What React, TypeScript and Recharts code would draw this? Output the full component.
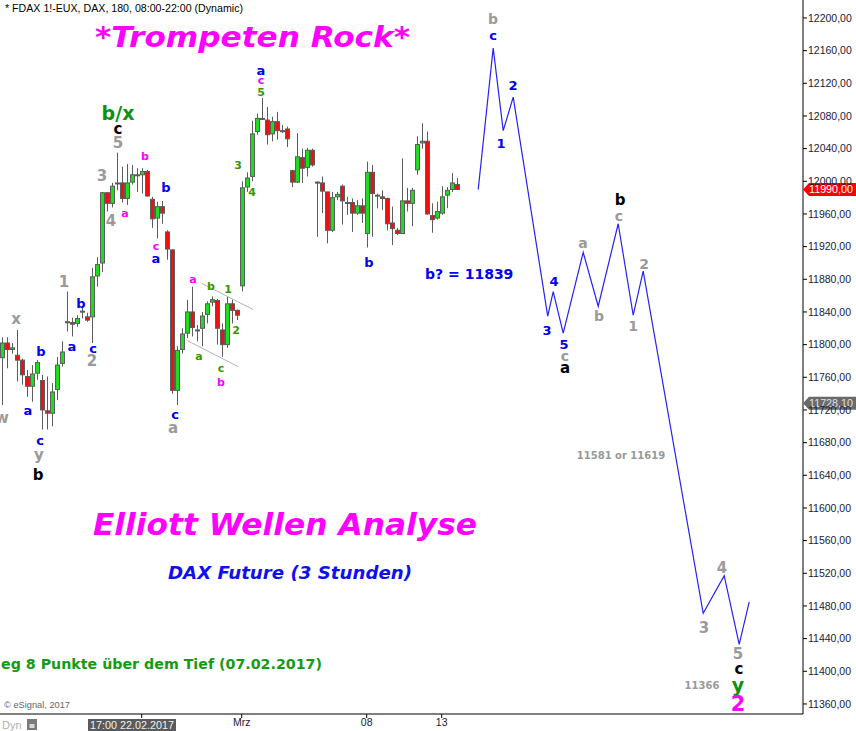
import React from 'react';
import {
  ComposedChart,
  Bar,
  Line,
  Scatter,
  XAxis,
  YAxis,
  ReferenceLine,
  ReferenceDot,
} from 'recharts';

// ---------- candle data (3h bars, slot index = bar number) ----------
const candleOpen = [
  11784, 11802, 11794, 11787, 11781, 11761, 11749, 11765, 11756, 11719,
  11716, 11745, 11777, 11827, 11827, 11826, 11840, 11834, 11834, 11884,
  11900, 11986, 11973, 11997, 11998, 11979, 11999, 12007, 12008, 12012,
  11978, 11955, 11969, 11938, 11916, 11744, 11794, 11814, 11840, 11817,
  11820, 11837, 11852, 11854, 11818, 11800, 11850, 11842, 11872, 11993,
  12006, 12061, 12076, 12075, 12058, 12073, 12061, 12064, 12013, 11999,
  12029, 12017, 12038, 11998, 11998, 11987, 11940, 11981, 11994, 11973,
  11974, 11961, 11970, 11936, 12011, 11983, 11981, 11979, 11949, 11940,
  11936, 11976, 11973, 12014, 12047, 12049, 11958, 11955, 11961, 11983,
  11990, 11996,
];
const candleHigh = [
  11809, 11809, 11802, 11818, 11783, 11769, 11775, 11781, 11763, 11761,
  11753, 11785, 11804, 11865, 11833, 11836, 11845, 11839, 11894, 11907,
  11987, 11987, 11998, 12035, 12018, 12021, 12020, 12016, 12016, 12014,
  11981, 11975, 11976, 11940, 11917, 11798, 11820, 11855, 11871, 11824,
  11840, 11853, 11859, 11856, 11826, 11859, 11855, 11843, 12000, 12011,
  12074, 12083, 12102, 12091, 12079, 12085, 12069, 12067, 12014, 12059,
  12040, 12041, 12040, 12000, 12006, 11987, 11987, 11987, 11996, 11981,
  11979, 11977, 11979, 12024, 12020, 11985, 11989, 11980, 11969, 11943,
  12028, 11992, 11992, 12055, 12071, 12061, 11973, 11975, 11994, 11993,
  12010, 12004,
];
const candleLow = [
  11726, 11771, 11789, 11755, 11751, 11736, 11730, 11757, 11696, 11696,
  11700, 11732, 11773, 11816, 11810, 11822, 11832, 11828, 11802, 11871,
  11889, 11963, 11968, 11989, 11974, 11971, 11996, 11987, 11985, 11981,
  11943, 11930, 11948, 11904, 11740, 11726, 11789, 11808, 11810, 11804,
  11798, 11826, 11847, 11800, 11785, 11796, 11826, 11830, 11865, 11987,
  12000, 12057, 12075, 12045, 12049, 12051, 12059, 12042, 11993, 11998,
  11998, 12006, 12018, 11932, 11961, 11924, 11938, 11977, 11947, 11959,
  11938, 11959, 11949, 11919, 11932, 11967, 11965, 11940, 11922, 11934,
  11936, 11963, 11945, 12008, 12040, 11959, 11937, 11953, 11959, 11967,
  11987, 11989,
];
const candleClose = [
  11802, 11794, 11796, 11781, 11763, 11749, 11764, 11778, 11720, 11716,
  11742, 11775, 11791, 11828, 11825, 11832, 11841, 11830, 11883, 11898,
  11986, 11973, 11994, 11998, 11979, 11998, 12008, 12008, 12012, 11982,
  11954, 11969, 11961, 11917, 11744, 11793, 11813, 11840, 11821, 11818,
  11835, 11850, 11855, 11820, 11800, 11850, 11842, 11836, 11992, 12004,
  12058, 12077, 12077, 12057, 12073, 12062, 12062, 12052, 11999, 12030,
  12016, 12038, 12020, 11999, 11988, 11940, 11980, 11984, 11976, 11974,
  11961, 11970, 11961, 12011, 11985, 11983, 11979, 11948, 11942, 11936,
  11976, 11973, 11989, 12045, 12049, 11960, 11953, 11963, 11981, 11989,
  11998, 11990,
];

// ---------- projected Elliott path ----------
const projSlots = [95.3, 98.3, 100.3, 102.3, 109.2, 110.3, 112.3, 116.3, 119.3, 123.3, 126.3, 128.3, 140.3, 144.5, 147.5, 149.5];
const projPrices = [11990, 12163, 12062, 12103, 11835, 11865, 11814, 11913, 11847, 11948, 11836, 11890, 11471, 11517, 11433, 11485];

// ---------- axes ----------
const yTicks = [
  11360, 11400, 11440, 11480, 11520, 11560, 11600, 11640, 11680, 11720, 11760,
  11800, 11840, 11880, 11920, 11960, 12000, 12040, 12080, 12120, 12160, 12200,
];
const xTicks = [28, 48, 73, 88];
const xTickLabels = ['', 'Mrz', '08', '13'];
const lastPrice = 11990;
const markerPrice = 11728.1;

// ---------- wave labels [slot, price, text] ----------
type Lab = [number, number, string];
const blueLabels: Lab[] = [
  [5.26, 11719, 'a'], [7.86, 11792, 'b'], [7.66, 11683, 'c'], [14.06, 11798, 'a'],
  [15.86, 11850, 'b'], [18.26, 11795, 'c'], [32.86, 11992, 'b'], [30.86, 11905, 'a'],
  [34.66, 11714, 'c'], [51.86, 12136, 'a'], [73.46, 11900, 'b'], [98.26, 12178, 'c'],
  [99.86, 12046, '1'], [102.26, 12117, '2'], [109.06, 11817, '3'], [110.46, 11877, '4'],
  [112.46, 11800, '5'],
];
const grayBigLabels: Lab[] = [
  [0.06, 11710, 'w'], [2.86, 11831, 'x'], [7.46, 11665, 'y'], [12.46, 11877, '1'],
  [18.06, 11780, '2'], [20.06, 12007, '3'], [21.86, 11951, '4'], [23.26, 12047, '5'],
  [34.26, 11698, 'a'], [140.46, 11453, '3'], [144.06, 11527, '4'], [147.26, 11421, '5'],
];
const grayMidLabels: Lab[] = [
  [98.26, 12199, 'b'], [112.66, 11786, 'c'], [116.26, 11925, 'a'], [119.46, 11835, 'b'],
  [123.46, 11958, 'c'], [126.26, 11823, '1'], [128.46, 11899, '2'],
];
const blackLabels: Lab[] = [
  [7.26, 11640, 'b'], [23.26, 12064, 'c'], [112.66, 11771, 'a'], [123.66, 11977, 'b'],
  [147.46, 11403, 'c'],
];
const magentaLabels: Lab[] = [
  [28.66, 12030, 'b'], [24.66, 11961, 'a'], [30.86, 11920, 'c'], [38.26, 11880, 'a'],
  [43.86, 11754, 'b'], [51.86, 12124, 'c'],
];
const greenSmallLabels: Lab[] = [
  [41.86, 11871, 'b'], [45.26, 11868, '1'], [46.86, 11817, '2'], [39.46, 11785, 'a'],
  [43.86, 11771, 'c'], [47.26, 12019, '3'], [50.06, 11986, '4'], [51.86, 12109, '5'],
];
const greenBigLabels: Lab[] = [[23.26, 12084, 'b/x'], [147.26, 11383, 'y']];
const magentaBigLabels: Lab[] = [[147.26, 11360, '2']];
const blueNotes: Lab[] = [[93.5, 11886, 'b? = 11839']];
const grayNotes: Lab[] = [[123.86, 11664, '11581 or 11619'], [140.06, 11383, '11366']];

// triangle guide lines [slot1, price1, slot2, price2]
const guideLines = [
  [40.0, 11875, 50.3, 11843],
  [37.1, 11805, 47.3, 11773],
];

// ---------- derived tables ----------
const candleRows = candleOpen.map((o, i) => ({
  slot: i,
  open: o,
  high: candleHigh[i],
  low: candleLow[i],
  close: candleClose[i],
  range: [candleLow[i], candleHigh[i]],
}));
const projRows = projSlots.map((s, i) => ({ slot: s, proj: projPrices[i] }));
const toRows = (arr: Lab[]) => arr.map(([slot, price, text]) => ({ slot, price, text }));

const LABEL_FONT = '"DejaVu Sans", Verdana, sans-serif';
const AXIS_FONT = '"Liberation Sans", Arial, sans-serif';

const Candle = (props: any) => {
  const { x, y, width, height, payload } = props;
  if (!payload || x == null || y == null || height == null) return <g />;
  const { open, close, high, low } = payload;
  const yTop = Math.min(y, y + height);
  const h = Math.abs(height);
  const cx = Math.round(x + width / 2) + 0.5;
  const span = high - low || 1;
  const py = (v: number) => yTop + ((high - v) / span) * h;
  const top = py(Math.max(open, close));
  const bot = py(Math.min(open, close));
  const up = close >= open;
  return (
    <g>
      <line x1={cx} x2={cx} y1={yTop} y2={yTop + h} stroke="#5c5c5c" strokeWidth={1} />
      <rect
        x={cx - 2}
        y={top}
        width={4}
        height={Math.max(bot - top, 1)}
        fill={up ? '#1fdc1f' : '#ee1111'}
        stroke="#5c5c5c"
        strokeWidth={1}
      />
    </g>
  );
};

const makeText = (color: string, size: number) => (props: any) => {
  const { cx, cy, payload } = props;
  if (cx == null || cy == null || !payload) return <g />;
  return (
    <text
      x={cx}
      y={cy}
      textAnchor="middle"
      dominantBaseline="central"
      fill={color}
      fontSize={size}
      fontWeight="bold"
      fontFamily={LABEL_FONT}
    >
      {payload.text}
    </text>
  );
};

const PriceTag = (fill: string, textFill: string, label: string) => (props: any) => {
  const { cx, cy } = props;
  if (cx == null || cy == null) return <g />;
  const top = cy - 6.5;
  return (
    <g>
      <polygon
        points={`${cx},${cy} ${cx + 6},${top} ${cx + 53},${top} ${cx + 53},${top + 13} ${cx + 6},${top + 13}`}
        fill={fill}
      />
      <text
        x={cx + 6}
        y={cy + 4}
        fill={textFill}
        fontSize={10.5}
        fontFamily={AXIS_FONT}
        textLength={44}
        lengthAdjust="spacingAndGlyphs"
      >
        {label}
      </text>
    </g>
  );
};

const fmt = (v: number) => v.toFixed(2).replace('.', ',');

export default function App() {
  return (
    <div
      style={{
        position: 'absolute',
        left: 0,
        top: 0,
        width: 856,
        height: 731,
        background: '#ffffff',
        overflow: 'hidden',
      }}
    >
      <ComposedChart
        width={856}
        height={731}
        data={candleRows}
        margin={{ top: 0, right: 0, bottom: 0, left: 0 }}
      >
        <XAxis
          type="number"
          dataKey="slot"
          domain={[-0.34, 160.26]}
          allowDataOverflow
          ticks={xTicks}
          interval={0}
          height={17}
          tickSize={4}
          tickMargin={1}
          stroke="#000"
          axisLine={{ stroke: '#000' }}
          tickLine={{ stroke: '#000' }}
          tick={{ fill: '#1a1a3a', fontSize: 10.5, fontFamily: AXIS_FONT }}
          tickFormatter={(v: number) => {
            const i = xTicks.indexOf(v);
            return i >= 0 ? xTickLabels[i] : '';
          }}
        />
        <YAxis
          type="number"
          orientation="right"
          domain={[11347.7, 12222.0]}
          allowDataOverflow
          ticks={yTicks}
          interval={0}
          width={53}
          tickSize={4}
          tickMargin={1}
          axisLine={{ stroke: '#000' }}
          tickLine={{ stroke: '#000' }}
          tick={{ fill: '#1a1a3a', fontSize: 10.5, fontFamily: AXIS_FONT }}
          tickFormatter={fmt}
        />
        {guideLines.map((g, i) => (
          <ReferenceLine
            key={'g' + i}
            segment={[{ x: g[0], y: g[1] }, { x: g[2], y: g[3] }]}
            stroke="#b4b4b4"
            strokeWidth={1}
            ifOverflow="visible"
          />
        ))}
        <Bar dataKey="range" barSize={4} shape={Candle} isAnimationActive={false} />
        <Line
          data={projRows}
          dataKey="proj"
          type="linear"
          stroke="#2424f0"
          strokeWidth={1.2}
          dot={false}
          activeDot={false}
          isAnimationActive={false}
        />
        <Scatter data={toRows(blueLabels)} dataKey="price" shape={makeText('#0000ee', 13)} isAnimationActive={false} />
        <Scatter data={toRows(grayBigLabels)} dataKey="price" shape={makeText('#9a9a9a', 15)} isAnimationActive={false} />
        <Scatter data={toRows(grayMidLabels)} dataKey="price" shape={makeText('#9a9a9a', 14)} isAnimationActive={false} />
        <Scatter data={toRows(blackLabels)} dataKey="price" shape={makeText('#000000', 15)} isAnimationActive={false} />
        <Scatter data={toRows(magentaLabels)} dataKey="price" shape={makeText('#ff00ff', 11)} isAnimationActive={false} />
        <Scatter data={toRows(greenSmallLabels)} dataKey="price" shape={makeText('#339900', 11)} isAnimationActive={false} />
        <Scatter data={toRows(greenBigLabels)} dataKey="price" shape={makeText('#119111', 19)} isAnimationActive={false} />
        <Scatter data={toRows(magentaBigLabels)} dataKey="price" shape={makeText('#ff00ff', 21)} isAnimationActive={false} />
        <Scatter data={toRows(blueNotes)} dataKey="price" shape={makeText('#0000ee', 14)} isAnimationActive={false} />
        <Scatter data={toRows(grayNotes)} dataKey="price" shape={makeText('#999999', 10)} isAnimationActive={false} />
        <ReferenceDot
          x={160.26}
          y={markerPrice}
          r={0}
          ifOverflow="visible"
          shape={PriceTag('#6a6a6a', '#e0e0e0', fmt(markerPrice))}
        />
        <ReferenceDot
          x={160.26}
          y={lastPrice}
          r={0}
          ifOverflow="visible"
          shape={PriceTag('#ff0000', '#ffffff', fmt(lastPrice))}
        />
      </ComposedChart>
      <svg
        width={856}
        height={731}
        style={{ position: 'absolute', left: 0, top: 0, pointerEvents: 'none' }}
      >
        <text x={5} y={12} fontSize={11} fontFamily={AXIS_FONT} fill="#000" textLength={238} lengthAdjust="spacingAndGlyphs">
          * FDAX 1!-EUX, DAX, 180, 08:00-22:00 (Dynamic)
        </text>
        <text x={95} y={47} fontSize={29} fontFamily={LABEL_FONT} fontWeight="bold" fontStyle="italic" fill="#ff00ff" textLength={315} lengthAdjust="spacingAndGlyphs">
          *Trompeten Rock*
        </text>
        <text x={93} y={535} fontSize={31} fontFamily={LABEL_FONT} fontWeight="bold" fontStyle="italic" fill="#ff00ff" textLength={384} lengthAdjust="spacingAndGlyphs">
          Elliott Wellen Analyse
        </text>
        <text x={168} y={578.5} fontSize={18} fontFamily={LABEL_FONT} fontWeight="bold" fontStyle="italic" fill="#1010ee" textLength={244} lengthAdjust="spacingAndGlyphs">
          DAX Future (3 Stunden)
        </text>
        <text x={1} y={669} fontSize={14} fontFamily={LABEL_FONT} fontWeight="bold" fill="#149b14" textLength={321} lengthAdjust="spacingAndGlyphs">
          eg 8 Punkte über dem Tief (07.02.2017)
        </text>
        <text x={4} y={708} fontSize={9} fontFamily={AXIS_FONT} fill="#666" textLength={66} lengthAdjust="spacingAndGlyphs">
          © eSignal, 2017
        </text>
        <text x={2} y={729} fontSize={11} fontFamily={AXIS_FONT} fill="#b0b0b0">
          Dyn
        </text>
        <rect x={27} y={719} width={10} height={11} fill="#7a7a7a" />
        <rect x={29.5} y={724} width={5} height={4} fill="#d8d8d8" />
        <rect x={88} y={719} width={88} height={12} fill="#5a5a5a" />
        <text x={90} y={729} fontSize={10.5} fontFamily={AXIS_FONT} fill="#f0f0f0" textLength={84} lengthAdjust="spacingAndGlyphs">
          17:00 22.02.2017
        </text>
      </svg>
    </div>
  );
}
